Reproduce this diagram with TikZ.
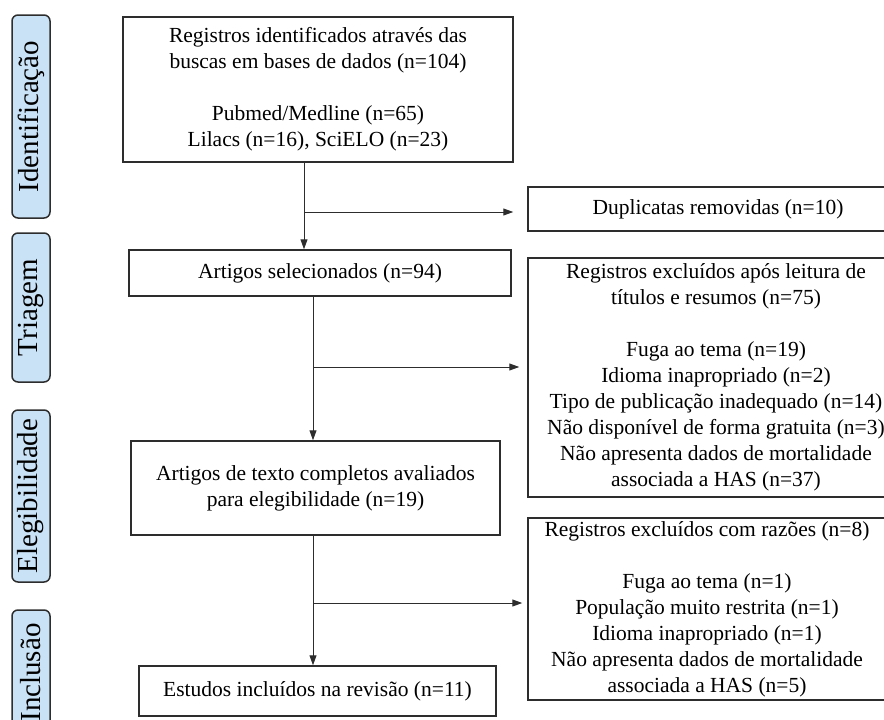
\documentclass[tikz,border=0pt]{standalone}
\usepackage{fontspec}
\setmainfont{Liberation Serif}
\usetikzlibrary{arrows.meta}
\definecolor{sideblue}{RGB}{202,226,246}
\definecolor{edge}{RGB}{45,45,45}
\tikzset{
  box/.style={draw=edge, line width=1.5pt, align=center, inner sep=0pt,
    font=\fontsize{21.5}{26}\selectfont},
  side/.style={draw=edge, fill=sideblue, rounded corners=6pt, line width=1.5pt,
    rotate=90, inner sep=0pt, font=\fontsize{29}{31}\selectfont},
  conn/.style={line width=1pt, draw=edge},
  arr/.style={conn, -{Triangle[length=10pt,width=7pt]}}
}
\begin{document}
\begin{tikzpicture}[x=1pt,y=-1pt]
\useasboundingbox (0,0) rectangle (884,720);
\clip (0,0) rectangle (884,720);
% side labels
\node[side, minimum width=203pt, minimum height=38pt] (sid) at (31,116.5) {Identificação};
\node[side, minimum width=149pt, minimum height=38pt] (stri) at (31,307.5) {Triagem};
\node[side, minimum width=172pt, minimum height=38pt] (sele) at (31,496) {Elegibilidade};
\node[side, minimum width=125pt, minimum height=38pt] (sinc) at (31,672.5) {Inclusão};
% left column
\node[box, minimum width=390pt, minimum height=145pt] (top) at (318,89.5)
  {Registros identificados através das\\buscas em bases de dados (n=104)\\[26pt]Pubmed/Medline (n=65)\\Lilacs (n=16), SciELO (n=23)};
\node[box, minimum width=382pt, minimum height=46pt] (sel) at (320,273) {Artigos selecionados (n=94)};
\node[box, minimum width=369pt, minimum height=94pt] (full) at (315.5,488)
  {Artigos de texto completos avaliados\\para elegibilidade (n=19)};
\node[box, minimum width=357pt, minimum height=50pt] (inc) at (317.5,691) {Estudos incluídos na revisão (n=11)};
% right column
\node[box, minimum width=380pt, minimum height=44pt] (dup) at (718,209) {Duplicatas removidas (n=10)};
\node[box, minimum width=376pt, minimum height=239pt] (exc1) at (716,377.5)
  {Registros excluídos após leitura de\\títulos e resumos (n=75)\\[26pt]Fuga ao tema (n=19)\\Idioma inapropriado (n=2)\\Tipo de publicação inadequado (n=14)\\Não disponível de forma gratuita (n=3)\\Não apresenta dados de mortalidade\\associada a HAS (n=37)};
\node[box, minimum width=358pt, minimum height=182pt] (exc2) at (707,609)
  {Registros excluídos com razões (n=8)\\[26pt]Fuga ao tema (n=1)\\População muito restrita (n=1)\\Idioma inapropriado (n=1)\\Não apresenta dados de mortalidade\\associada a HAS (n=5)};
% connectors
\coordinate (j1) at (304,212);
\coordinate (j2) at (313,367);
\coordinate (j3) at (313,603);
\draw[conn] (top.south -| j1) -- (j1);
\draw[arr] (j1) -- (sel.north -| j1);
\draw[arr, shorten >=14pt] (j1) -- (dup.west |- j1);
\draw[conn] (sel.south -| j2) -- (j2);
\draw[arr] (j2) -- (full.north -| j2);
\draw[arr, shorten >=8pt] (j2) -- (exc1.west |- j2);
\draw[conn] (full.south -| j3) -- (j3);
\draw[arr] (j3) -- (inc.north -| j3);
\draw[arr, shorten >=5pt] (j3) -- (exc2.west |- j3);
\end{tikzpicture}
\end{document}
